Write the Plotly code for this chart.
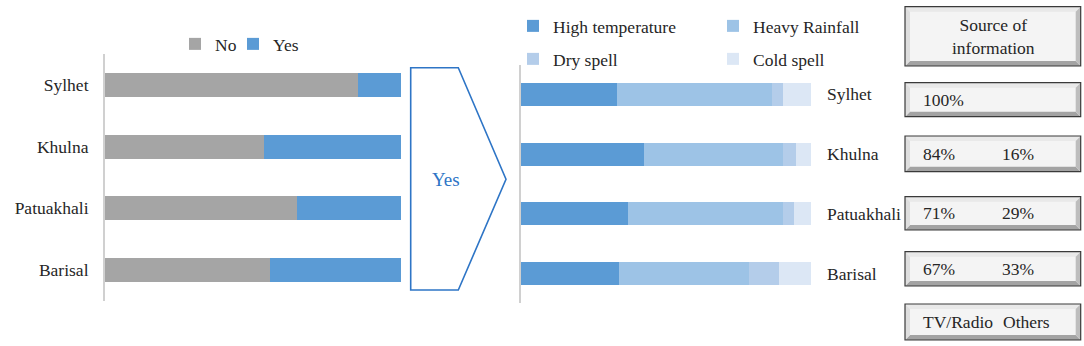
import plotly.graph_objects as go

W, H = 1084, 346

# ---------------- data ----------------
regions = ["Sylhet", "Khulna", "Patuakhali", "Barisal"]
perceived_no = [85.4, 53.7, 64.8, 55.7]
perceived_yes = [14.6, 46.3, 35.2, 44.3]

high_temperature = [33.3, 42.5, 36.9, 33.9]
heavy_rainfall = [53.4, 47.8, 53.4, 44.8]
dry_spell = [3.6, 4.4, 4.0, 10.2]
cold_spell = [9.7, 5.3, 5.7, 11.1]

source_tv_radio = [100, 84, 71, 67]
source_others = [0, 16, 29, 33]
source_labels = ["TV/Radio", "Others"]

FONT = "Liberation Serif"
TXT = "#262626"


def px(x):
    return x / W


def py(y):
    return 1 - y / H


fig = go.Figure()

# ---------------- left chart ----------------
fig.add_trace(go.Bar(y=regions, x=perceived_no, name="No", orientation="h",
                     marker=dict(color="#a5a5a5", line=dict(width=0)), width=0.39,
                     xaxis="x", yaxis="y", legend="legend", showlegend=True))
fig.add_trace(go.Bar(y=regions, x=perceived_yes, name="Yes", orientation="h",
                     marker=dict(color="#5b9bd5", line=dict(width=0)), width=0.39,
                     xaxis="x", yaxis="y", legend="legend4", showlegend=True))

# ---------------- right chart ----------------
right_series = [
    ("High temperature", high_temperature, "#5b9bd5", "legend2"),
    ("Heavy Rainfall", heavy_rainfall, "#9dc3e6", "legend2"),
    ("Dry spell", dry_spell, "#b4cdea", "legend3"),
    ("Cold spell", cold_spell, "#dce7f5", "legend3"),
]
for name, vals, col, lg in right_series:
    fig.add_trace(go.Bar(y=regions, x=vals, name=name, orientation="h",
                         marker=dict(color=col, line=dict(width=0)), width=0.385,
                         xaxis="x2", yaxis="y2", legend=lg, showlegend=True))

cat_order = regions[::-1]

legend_font = dict(family=FONT, size=17.5, color=TXT)

fig.update_layout(
    width=W, height=H,
    margin=dict(l=0, r=0, t=0, b=0),
    paper_bgcolor="white", plot_bgcolor="white",
    barmode="stack",
    showlegend=True,
    font=dict(family=FONT, size=17.5, color=TXT),
    xaxis=dict(domain=[px(105), px(401)], range=[0, 100], visible=False, fixedrange=True),
    yaxis=dict(domain=[py(300.8), py(54)], type="category", categoryorder="array",
               categoryarray=cat_order, showline=True, linecolor="#d0d0d0", linewidth=2,
               ticks="", showgrid=False, ticklabelstandoff=11,
               tickfont=dict(family=FONT, size=17.5, color=TXT), anchor="x"),
    xaxis2=dict(domain=[px(520.7), px(811)], range=[0, 100], visible=False, fixedrange=True,
                anchor="y2"),
    yaxis2=dict(domain=[py(303.4), py(64.6)], type="category", categoryorder="array",
                categoryarray=cat_order, showline=True, linecolor="#d0d0d0", linewidth=2,
                ticks="", showgrid=False, showticklabels=False, anchor="x2"),
    legend=dict(orientation="h", x=px(175), xanchor="left", y=py(44), yanchor="middle",
                font=legend_font, itemwidth=30, bgcolor="rgba(0,0,0,0)", visible=True),
    legend4=dict(orientation="h", x=px(233), xanchor="left", y=py(44), yanchor="middle",
                 font=legend_font, itemwidth=30, bgcolor="rgba(0,0,0,0)", visible=True),
    legend2=dict(orientation="h", x=px(513), xanchor="left", y=py(26), yanchor="middle",
                 font=legend_font, itemwidth=30,
                 entrywidth=155, bgcolor="rgba(0,0,0,0)", traceorder="normal"),
    legend3=dict(orientation="h", x=px(513), xanchor="left", y=py(59), yanchor="middle",
                 font=legend_font, itemwidth=30,
                 entrywidth=155, bgcolor="rgba(0,0,0,0)", traceorder="normal"),
)

annotations = []
# right-side region labels
for r in regions:
    annotations.append(dict(x=100, y=r, xref="x2", yref="y2", text=r, showarrow=False,
                            xanchor="left", yanchor="middle", xshift=14,
                            font=dict(family=FONT, size=17.5, color=TXT)))

shapes = []

# arrow shape
ax0, ax1, ax2 = 410.7, 458.3, 506
ay0, aym, ay1 = 67.7, 179.3, 290
shapes.append(dict(type="path", xref="paper", yref="paper",
                   path=(f"M{px(ax0)},{py(ay0)} L{px(ax1)},{py(ay0)} L{px(ax2)},{py(aym)} "
                         f"L{px(ax1)},{py(ay1)} L{px(ax0)},{py(ay1)} Z"),
                   line=dict(color="#2e75c6", width=1.6), fillcolor="rgba(0,0,0,0)"))
annotations.append(dict(x=px(446), y=py(179), xref="paper", yref="paper", text="Yes",
                        showarrow=False, xanchor="center", yanchor="middle",
                        font=dict(family=FONT, size=19, color="#2e75c6")))


def poly(pts, fill):
    d = "M" + " L".join(f"{px(x)},{py(y)}" for x, y in pts) + " Z"
    return dict(type="path", xref="paper", yref="paper", path=d,
                fillcolor=fill, line=dict(width=0))


def bevel_box(x0, y0, x1, y1, b=5):
    s = []
    s.append(dict(type="rect", xref="paper", yref="paper", x0=px(x0), x1=px(x1),
                  y0=py(y1), y1=py(y0), fillcolor="#f4f4f4", line=dict(width=0)))
    s.append(poly([(x0, y0), (x1, y0), (x1 - b, y0 + b), (x0 + b, y0 + b)], "#e9e9e9"))
    s.append(poly([(x0, y1), (x1, y1), (x1 - b, y1 - b), (x0 + b, y1 - b)], "#a3a3a3"))
    s.append(poly([(x0, y0), (x0 + b, y0 + b), (x0 + b, y1 - b), (x0, y1)], "#dedede"))
    s.append(poly([(x1, y0), (x1 - b, y0 + b), (x1 - b, y1 - b), (x1, y1)], "#bdbdbd"))
    s.append(dict(type="rect", xref="paper", yref="paper", x0=px(x0), x1=px(x1),
                  y0=py(y1), y1=py(y0), fillcolor="rgba(0,0,0,0)",
                  line=dict(color="#3a3a3a", width=1.2)))
    return s


bx0, bx1 = 905, 1080.7
boxes_y = [(6.7, 66), (82.7, 116.7), (136, 171.7), (196.7, 230), (251.7, 286), (304, 340)]
for (y0, y1) in boxes_y:
    shapes.extend(bevel_box(bx0, y0, bx1, y1))

# header box
annotations.append(dict(x=px(993), y=py(36), xref="paper", yref="paper",
                        text="Source of<br>information", showarrow=False,
                        xanchor="center", yanchor="middle",
                        font=dict(family=FONT, size=17.5, color=TXT)))
# value boxes
for i, (tv, ot) in enumerate(zip(source_tv_radio, source_others)):
    y0, y1 = boxes_y[i + 1]
    yc = (y0 + y1) / 2
    annotations.append(dict(x=px(921), y=py(yc), xref="paper", yref="paper",
                            text=f"{tv}%", showarrow=False, xanchor="left", yanchor="middle",
                            font=dict(family=FONT, size=17.5, color=TXT)))
    if ot > 0:
        annotations.append(dict(x=px(1000), y=py(yc), xref="paper", yref="paper",
                                text=f"{ot}%", showarrow=False, xanchor="left",
                                yanchor="middle",
                                font=dict(family=FONT, size=17.5, color=TXT)))
# footer box labels
y0, y1 = boxes_y[-1]
annotations.append(dict(x=px(921), y=py((y0 + y1) / 2), xref="paper", yref="paper",
                        text=source_labels[0], showarrow=False, xanchor="left",
                        yanchor="middle", font=dict(family=FONT, size=17.5, color=TXT)))
annotations.append(dict(x=px(1001), y=py((y0 + y1) / 2), xref="paper", yref="paper",
                        text=source_labels[1], showarrow=False, xanchor="left",
                        yanchor="middle", font=dict(family=FONT, size=17.5, color=TXT)))

fig.update_layout(shapes=shapes, annotations=annotations)

fig.write_html("out.html", config={"displayModeBar": False},
               post_script="document.body.style.margin='0';document.body.style.overflow='hidden';")
